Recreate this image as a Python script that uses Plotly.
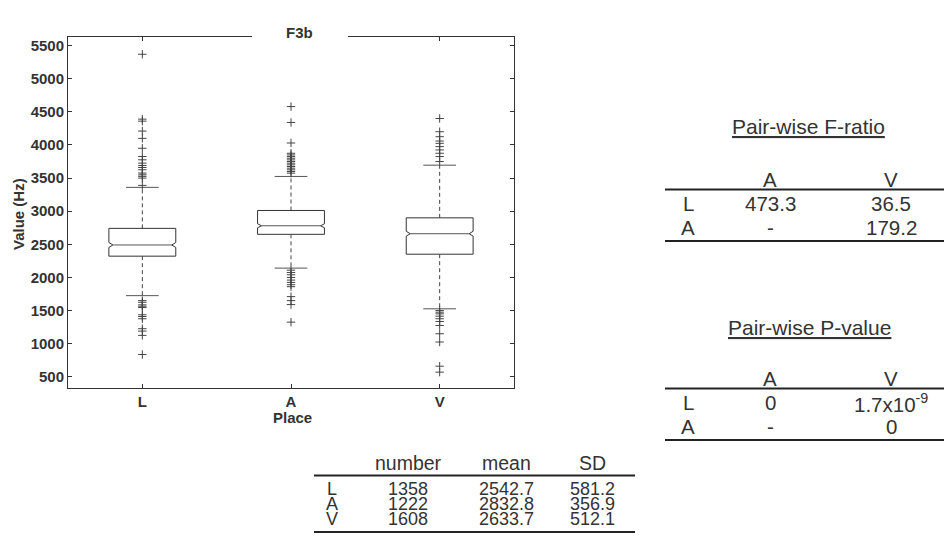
import plotly.graph_objects as go

# ---------------- data ----------------
places = ["L", "A", "V"]
positions = [1, 2, 3]
q1 = [2321, 2651, 2351]
median = [2490, 2780, 2660]
q3 = [2741, 3011, 2900]
lower_whisker = [1725, 2141, 1526]
upper_whisker = [3360, 3525, 3695]
notch_half = [37, 30, 37]

outliers_L = [5370, 4390, 4360, 4210, 4100, 3950, 3826, 3776, 3726, 3690, 3660,
              3626, 3576, 3550, 3526, 3500, 3390,
              1650, 1625, 1586, 1565, 1545, 1436, 1410, 1376, 1226, 1190, 1125, 836]
outliers_A = [4580, 4340, 4030, 3875, 3850, 3825, 3800, 3775, 3750, 3725, 3700,
              3675, 3650, 3625, 3600, 3575,
              2110, 2075, 2040, 2000, 1960, 1925, 1890, 1860, 1710, 1650, 1590, 1325]
outliers_V = [4400, 4200, 4125, 4060, 4025, 3975, 3925, 3875, 3825, 3750,
              1500, 1475, 1450, 1415, 1376, 1335, 1275, 1150, 1025, 660, 570]

y_ticks = [500, 1000, 1500, 2000, 2500, 3000, 3500, 4000, 4500, 5000, 5500]

stat_cols = ["number", "mean", "SD"]
stat_number = ["1358", "1222", "1608"]
stat_mean = ["2542.7", "2832.8", "2633.7"]
stat_sd = ["581.2", "356.9", "512.1"]

pair_cols = ["A", "V"]
pair_rows = ["L", "A"]
f_ratio_L = ["473.3", "36.5"]
f_ratio_A = ["-", "179.2"]
p_value_L = ["0", "1.7x10<sup>-9</sup>"]
p_value_A = ["-", "0"]

# ---------------- layout helpers ----------------
W, H = 944, 551
FONT = "Liberation Sans, Arial, Helvetica, sans-serif"
DARK = "#333333"
BOX_HALF = 0.225      # half box width (x units)
NOTCH_DEPTH = 0.12    # notch indentation, fraction of half width
CAP = 0.11            # half whisker-cap width


def px(x):
    return x / W


def py(y):
    return 1 - y / H


fig = go.Figure()

# notched boxes
for p, a, m, b, n in zip(positions, q1, median, q3, notch_half):
    h = BOX_HALF
    hn = BOX_HALF * (1 - NOTCH_DEPTH)
    bx = [p - h, p + h, p + h, p + hn, p + h, p + h, p - h, p - h, p - hn, p - h, p - h]
    by = [a, a, m - n, m, m + n, b, b, m + n, m, m - n, a]
    fig.add_trace(go.Scatter(x=bx, y=by, mode="lines", fill="toself",
                             fillcolor="white", line=dict(color=DARK, width=1),
                             hoverinfo="skip", showlegend=False))
    fig.add_trace(go.Scatter(x=[p - hn, p + hn], y=[m, m], mode="lines",
                             line=dict(color="#555555", width=1),
                             hoverinfo="skip", showlegend=False))

# dashed whiskers
wx, wy = [], []
for p, a, b, c, d in zip(positions, q3, upper_whisker, q1, lower_whisker):
    wx += [p, p, None, p, p, None]
    wy += [a, b, None, c, d, None]
fig.add_trace(go.Scatter(x=wx, y=wy, mode="lines",
                         line=dict(color="#444444", width=1, dash="4px,3px"),
                         hoverinfo="skip", showlegend=False))

# whisker caps
cx, cy = [], []
for p, u, l in zip(positions, upper_whisker, lower_whisker):
    cx += [p - CAP, p + CAP, None, p - CAP, p + CAP, None]
    cy += [u, u, None, l, l, None]
fig.add_trace(go.Scatter(x=cx, y=cy, mode="lines",
                         line=dict(color="#555555", width=1),
                         hoverinfo="skip", showlegend=False))

# outliers
ox = [1] * len(outliers_L) + [2] * len(outliers_A) + [3] * len(outliers_V)
oy = outliers_L + outliers_A + outliers_V
fig.add_trace(go.Scatter(x=ox, y=oy, mode="markers",
                         marker=dict(symbol="cross-thin", size=6,
                                     line=dict(color="#444444", width=1)),
                         hoverinfo="skip", showlegend=False))

fig.update_layout(
    width=W, height=H,
    margin=dict(l=0, r=0, t=0, b=0),
    paper_bgcolor="white", plot_bgcolor="white",
    font=dict(family=FONT, color=DARK),
    showlegend=False,
    xaxis=dict(domain=[px(68), px(514)], range=[0.5, 3.5],
               tickvals=positions, ticktext=places,
               ticks="inside", ticklen=4, tickcolor=DARK,
               showline=True, linecolor=DARK, linewidth=1, mirror="ticks",
               showgrid=False, zeroline=False,
               tickfont=dict(size=15, family=FONT, color=DARK, weight="bold")),
    yaxis=dict(domain=[py(387.7), py(36.7)], range=[335, 5635],
               tickvals=y_ticks, ticks="inside", ticklen=4, tickcolor=DARK,
               showline=True, linecolor=DARK, linewidth=1, mirror="ticks",
               showgrid=False, zeroline=False,
               tickfont=dict(size=15, family=FONT, color=DARK, weight="bold")),
)

annotations = []
shapes = []


def txt(x, y, s, size=20, bold=False, angle=0):
    annotations.append(dict(
        x=px(x), y=py(y), xref="paper", yref="paper", text=s, showarrow=False,
        xanchor="center", yanchor="middle", textangle=angle,
        font=dict(family=FONT, size=size, color=DARK,
                  weight="bold" if bold else "normal")))


def hline(x0, x1, y, w=2):
    shapes.append(dict(type="line", xref="paper", yref="paper",
                       x0=px(x0), x1=px(x1), y0=py(y), y1=py(y),
                       line=dict(color="#222222", width=w)))


# title gap over top axis line
shapes.append(dict(type="rect", xref="paper", yref="paper", layer="above",
                   x0=px(252), x1=px(348), y0=py(41), y1=py(30),
                   fillcolor="white", line=dict(width=0)))
txt(299, 33, "F3b", size=15, bold=True)
txt(18, 214, "Value (Hz)", size=15, bold=True, angle=-90)
txt(292, 417, "Place", size=15, bold=True)

TT = 21      # table titles
TS = 20.5    # pair-wise tables
TB = 18      # statistics table rows

# F-ratio table
colx = [770, 891]
txt(808, 127, "<u>Pair-wise F-ratio</u>", size=TT)
for c, x in zip(pair_cols, colx):
    txt(x, 179, c, size=TS)
hline(665, 944, 189.5)
for r, vals, y in zip(pair_rows, [f_ratio_L, f_ratio_A], [203.5, 227.5]):
    txt(688, y, r, size=TS)
    for v, x in zip(vals, colx):
        txt(x, y, v, size=TS)
hline(665, 944, 241)

# P-value table
txt(809, 327, "<u>Pair-wise P-value</u>", size=TT)
for c, x in zip(pair_cols, colx):
    txt(x, 378, c, size=TS)
hline(665, 944, 388.5)
for r, vals, y in zip(pair_rows, [p_value_L, p_value_A], [402.5, 426.5]):
    txt(688, y, r, size=TS)
    for v, x in zip(vals, colx):
        txt(x, y, v, size=TS)
hline(665, 944, 440)

# descriptive statistics table
scol = [408, 507, 592]
for c, x in zip(stat_cols, scol):
    txt(x, 463, c, size=19.5)
hline(314, 635, 475.5)
for i, (r, y) in enumerate(zip(places, [488.5, 503.5, 518.5])):
    txt(332, y, r, size=TB)
    for vals, x in zip([stat_number, stat_mean, stat_sd], scol):
        txt(x, y, vals[i], size=TB)
hline(314, 635, 532)

fig.update_layout(annotations=annotations, shapes=shapes)
fig.write_html("out.html",
               config={"displayModeBar": False},
               post_script="document.body.style.margin='0px';"
                           "document.body.style.overflow='hidden';")
